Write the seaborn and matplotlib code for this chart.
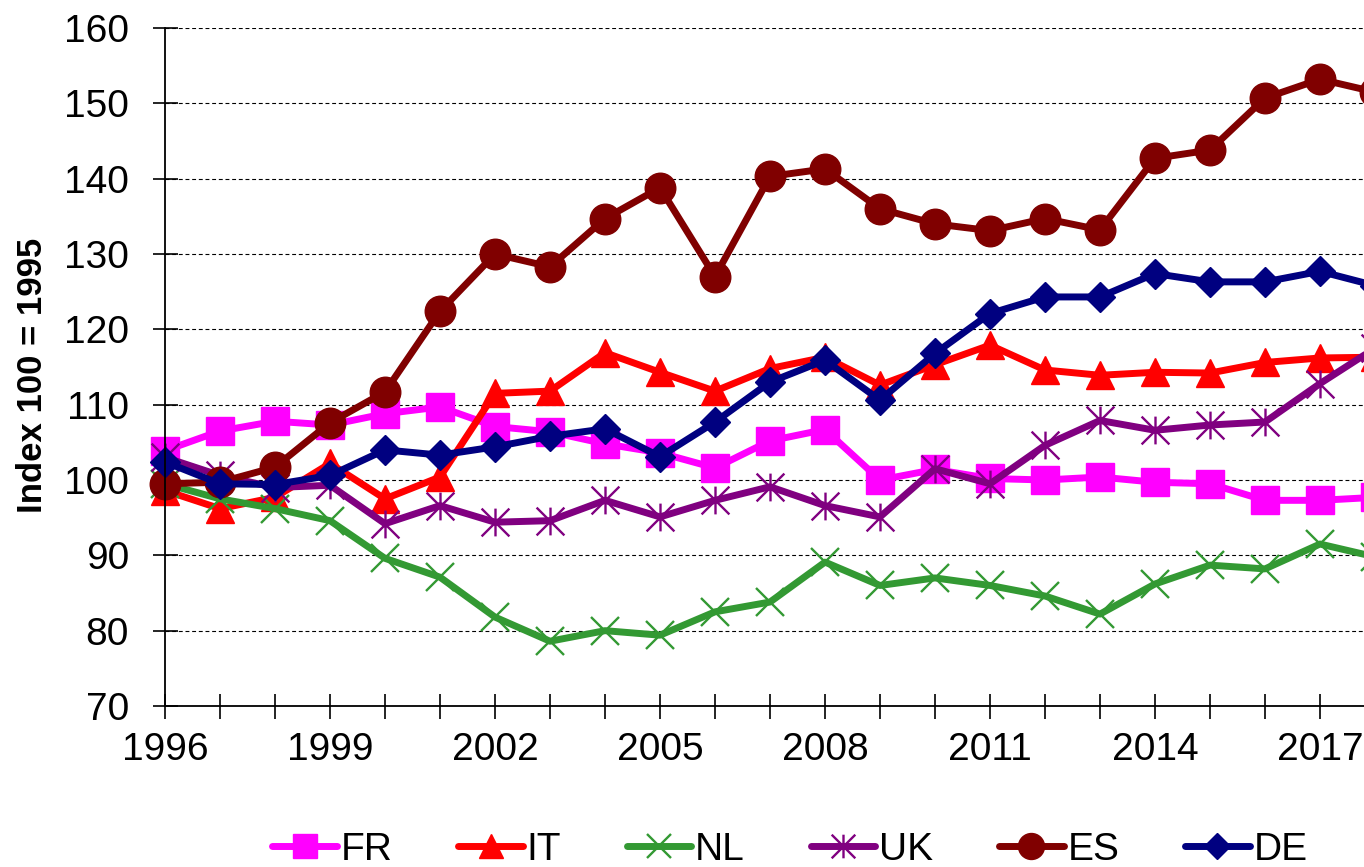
import matplotlib
matplotlib.use("Agg")
import matplotlib.pyplot as plt
from matplotlib.path import Path
from matplotlib.ticker import MultipleLocator
import seaborn as sns
import pandas as pd

years = list(range(1996, 2019))
fr = [103.9, 106.5, 107.8, 107.3, 108.8, 109.7, 107.1, 106.4, 104.8, 103.6, 101.6, 105.2,
      106.7, 100.0, 101.4, 100.2, 100.0, 100.4, 99.7, 99.5, 97.3, 97.3, 97.7]
it = [98.6, 96.2, 97.7, 102.2, 97.5, 100.4, 111.5, 111.8, 116.9, 114.3, 111.8, 114.8,
      116.3, 112.6, 115.3, 117.9, 114.6, 113.9, 114.3, 114.2, 115.6, 116.2, 116.3]
nl = [99.5, 97.5, 96.2, 94.6, 89.6, 87.1, 81.8, 78.6, 80.0, 79.4, 82.5, 83.8,
      89.1, 86.0, 87.0, 86.0, 84.6, 82.2, 86.2, 88.7, 88.2, 91.5, 89.8]
uk = [103.0, 100.6, 99.0, 99.3, 94.2, 96.6, 94.4, 94.6, 97.3, 95.1, 97.3, 99.1,
      96.6, 95.1, 101.5, 99.5, 104.6, 107.9, 106.6, 107.3, 107.7, 112.8, 117.5]
es = [99.5, 99.7, 101.7, 107.6, 111.7, 122.4, 130.0, 128.3, 134.7, 138.8, 127.0, 140.3,
      141.3, 136.0, 134.0, 133.1, 134.7, 133.2, 142.7, 143.8, 150.7, 153.2, 151.5]
de = [102.4, 99.5, 99.4, 100.6, 104.0, 103.3, 104.4, 105.8, 106.8, 103.1, 107.7, 113.0,
      115.9, 110.6, 116.8, 122.1, 124.3, 124.3, 127.4, 126.3, 126.3, 127.7, 125.8]

countries = ["FR", "IT", "NL", "UK", "ES", "DE"]
values = [fr, it, nl, uk, es, de]
colors = ["#FF00FF", "#FF0000", "#339933", "#800080", "#800000", "#000080"]
y_label = "Index 100 = 1995"
major_years = [1996, 1999, 2002, 2005, 2008, 2011, 2014, 2017]

# asterisk marker (X with vertical bar)
star = Path([(0, -1), (0, 1), (-1, -1), (1, 1), (-1, 1), (1, -1)],
            [Path.MOVETO, Path.LINETO, Path.MOVETO, Path.LINETO, Path.MOVETO, Path.LINETO])

markers = ["s", "^", "x", star, "o", "D"]
msizes = [20.5, 20.5, 20, 20, 22, 15]
mews = [1, 1, 1.7, 1.7, 1, 1]

sns.set_style("white")
plt.rcParams["font.family"] = ["Liberation Sans", "DejaVu Sans"]
plt.rcParams["text.color"] = "black"
plt.rcParams["axes.labelcolor"] = "black"
plt.rcParams["xtick.color"] = "black"
plt.rcParams["ytick.color"] = "black"

fig = plt.figure(figsize=(13.64, 8.67), dpi=100)
ax = fig.add_axes([165 / 1364, 1 - 706 / 867, 1 - 165 / 1364, (706 - 28) / 867])

for c, v, col, m, ms, mew in zip(countries, values, colors, markers, msizes, mews):
    df = pd.DataFrame({"year": years, "value": v})
    sns.lineplot(data=df, x="year", y="value", ax=ax, color=col, linewidth=5,
                 marker=m, markersize=ms, markeredgecolor=col, markerfacecolor=col,
                 markeredgewidth=mew, label=c, clip_on=False)

ax.set_xlim(1996, 2017.8)
ax.set_ylim(70, 160)
ax.set_yticks(range(70, 161, 10))
ax.set_xticks(major_years)
ax.xaxis.set_minor_locator(MultipleLocator(1))
ax.tick_params(axis="both", which="both", direction="inout", length=18, width=1.2,
               color="black", labelcolor="black", labelsize=28,
               bottom=True, left=True)
ax.tick_params(axis="y", pad=17)
ax.tick_params(axis="x", which="major", pad=10)
ax.grid(axis="y", color="black", linestyle=(0, (3.5, 2.5)), linewidth=0.8)
ax.grid(axis="x", visible=False)
for s in ["top", "right"]:
    ax.spines[s].set_visible(False)
for s in ["left", "bottom"]:
    ax.spines[s].set_color("black")
    ax.spines[s].set_linewidth(1.3)

ax.set_xlabel("")
ax.set_ylabel(y_label, fontsize=25, fontweight="bold", va="center", ha="center",
              color="black")
ax.yaxis.set_label_coords((33 - 165) / 1199, (706 - 375) / 678)

handles, labels = ax.get_legend_handles_labels()
ax.get_legend().remove()
leg = fig.legend(handles, labels, loc="center", bbox_to_anchor=(790 / 1364, 1 - 850 / 867),
                 ncol=6, frameon=False, fontsize=28, handlelength=1.65, handletextpad=0.1,
                 columnspacing=1.7, markerscale=0.85)
for t in leg.get_texts():
    t.set_color("black")

fig.savefig("out.png", dpi=100)
